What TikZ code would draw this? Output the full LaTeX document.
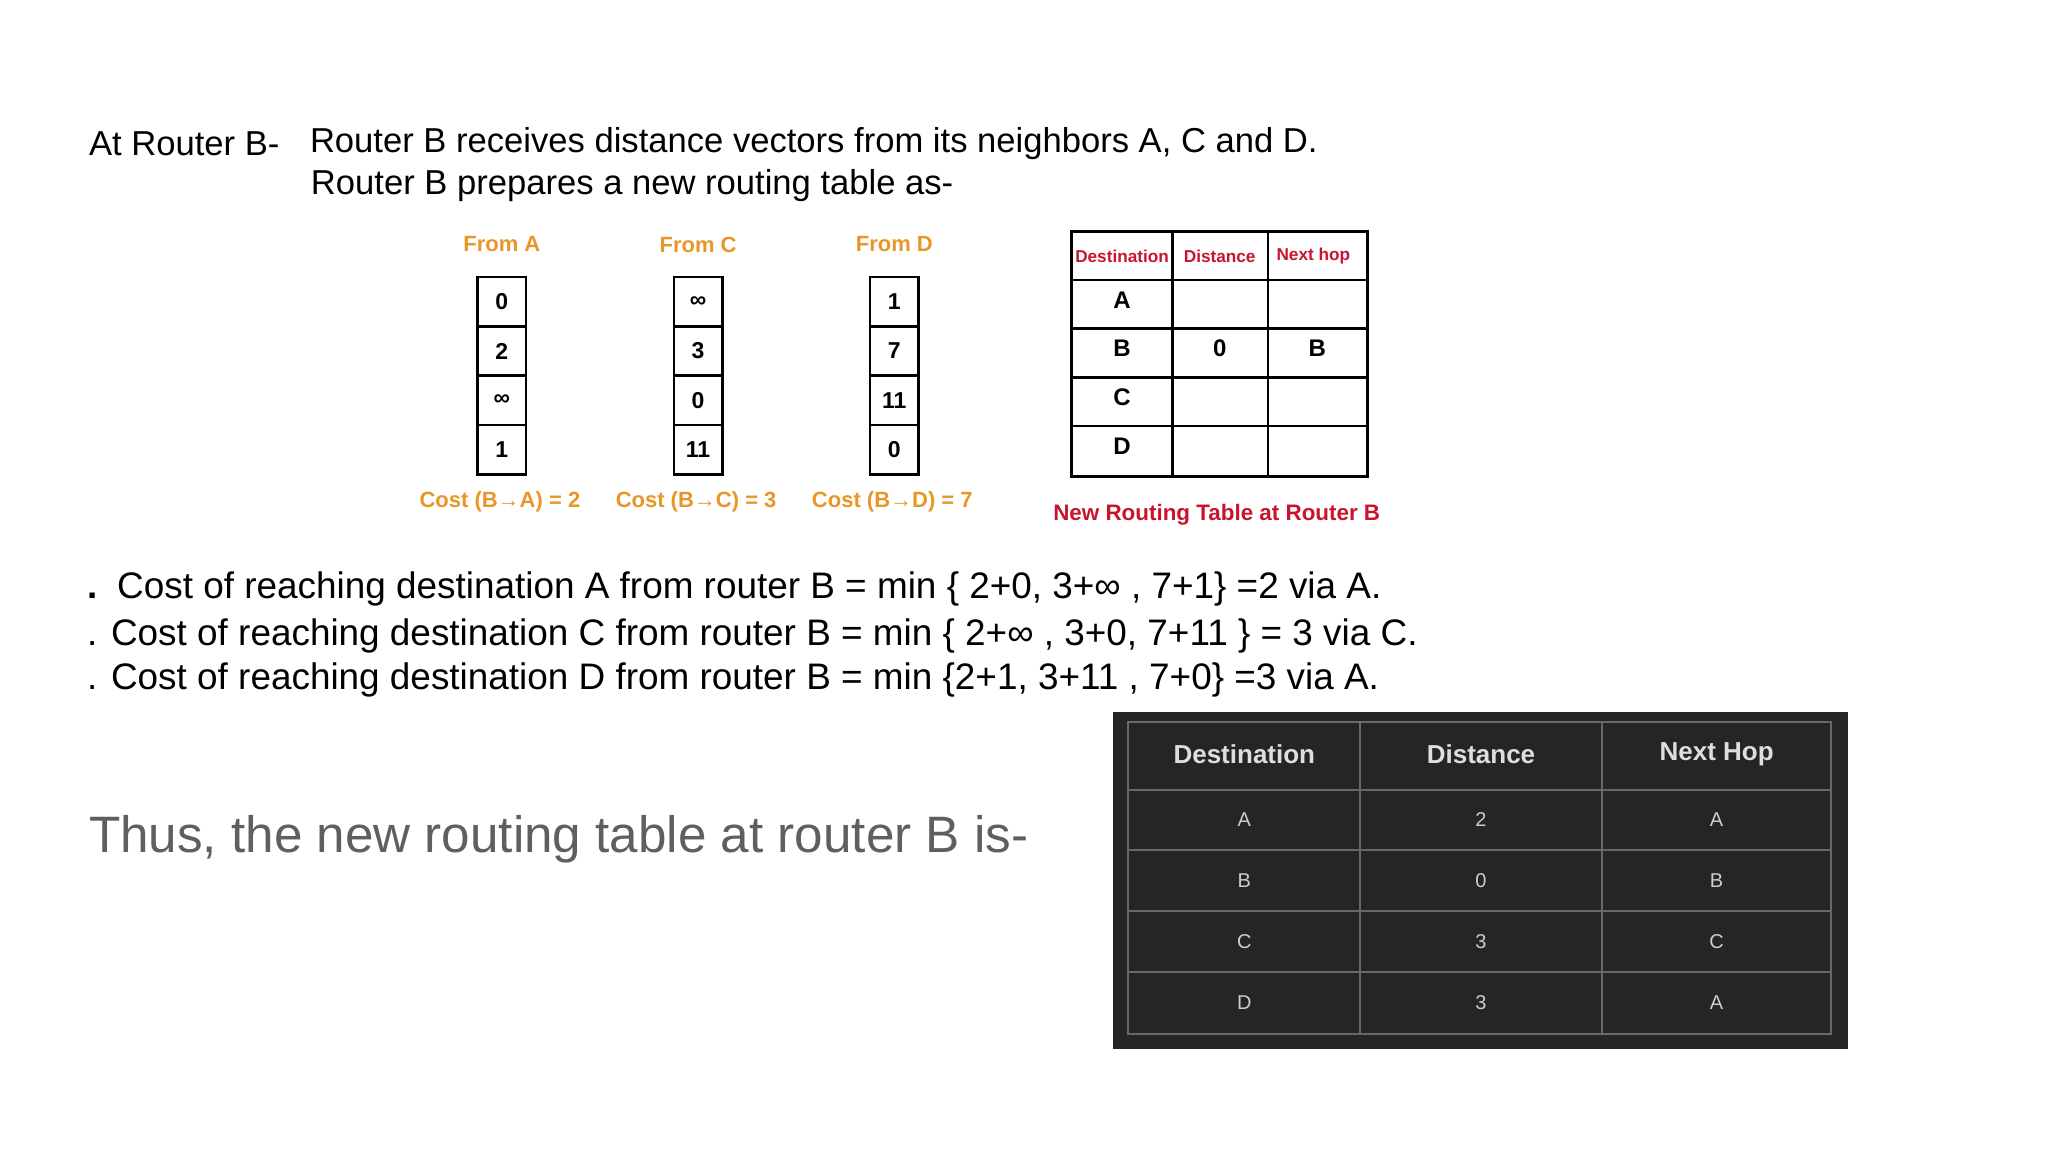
\documentclass[tikz,border=0pt]{standalone}
\usepackage{fontspec}
\setmainfont{Liberation Sans}
\begin{document}
\begin{tikzpicture}[x=0.5pt,y=-0.5pt,
  body/.style={anchor=west,inner sep=0pt,font=\fontsize{17.3}{20}\selectfont},
  line/.style={anchor=west,inner sep=0pt,font=\fontsize{18.45}{22}\selectfont},
  orng/.style={text=orng,font=\fontsize{11}{13}\selectfont\bfseries,inner sep=0pt},
  cell/.style={draw,line width=1.3pt,minimum width=24.2pt,minimum height=24.7pt,inner sep=0pt,font=\fontsize{11.5}{13}\selectfont\bfseries},
  rt/.style={inner sep=0pt,font=\fontsize{12}{14}\selectfont\bfseries},
  rh/.style={text=rd,inner sep=0pt,font=\fontsize{8.6}{10}\selectfont\bfseries},
  dk/.style={inner sep=0pt,text=lt,font=\fontsize{10}{12}\selectfont},
  dkh/.style={inner sep=0pt,text=lth,font=\fontsize{13}{15}\selectfont\bfseries}]
\definecolor{orng}{RGB}{232,150,40}
\definecolor{rd}{RGB}{200,20,45}
\definecolor{gr}{RGB}{95,95,95}
\definecolor{dkbg}{RGB}{36,37,36}
\definecolor{dkln}{RGB}{105,105,105}
\definecolor{lt}{RGB}{205,205,205}
\definecolor{lth}{RGB}{222,222,218}
\useasboundingbox (0,0) rectangle (2048,1152);
\begin{scope}[x=0.493pt,y=-0.493pt]
% header text
\node[body] (t1) at (90,146) {At Router B-};
\node[body] (t2) at (314,146) {Router B receives distance vectors from its neighbors A, C and D.};
\node[body] (t3) at (315,188) {Router B prepares a new routing table as-};
% vectors
\foreach \n/\x/\lab/\cost/\a/\b/\c/\d in {A/509/From A/Cost (B→A) = 2/0/2/∞/1, C/708/From C/Cost (B→C) = 3/∞/3/0/11, D/907/From D/Cost (B→D) = 7/1/7/11/0}{
  \node[orng] (h\n) at (\x,248) {\lab};
  \node[orng] (c\n) at (\x-2,509) {\cost};
  \node[cell] (v\n1) at (\x,306) {\a};
  \node[cell] (v\n2) at (\x,356) {\b};
  \node[cell] (v\n3) at (\x,406) {\c};
  \node[cell] (v\n4) at (\x,456) {\d};
}
% new routing table
\draw[line width=1.3pt] (1087,235) rectangle (1387,483);
\foreach \y in {284,333,383,432} \draw[line width=1.3pt] (1087,\y) -- (1387,\y);
\foreach \x in {1189,1286} \draw[line width=1.3pt] (\x,235) -- (\x,483);
\node[rh] (rh1) at (1138,260) {Destination};
\node[rh] (rh2) at (1237,260) {Distance};
\node[rh] (rh3) at (1332,260) {Next hop};
\node[rt] (rA) at (1138,304) {A};
\node[rt] (rB) at (1138,353) {B};
\node[rt] (rC) at (1138,403) {C};
\node[rt] (rD) at (1138,453) {D};
\node[rt] (rB2) at (1237,353) {0};
\node[rt] (rB3) at (1336,353) {B};
\node[text=rd,inner sep=0pt,font=\fontsize{11.2}{13}\selectfont\bfseries] (cap) at (1234,522) {New Routing Table at Router B};
% computations
\node[line] (l1) at (88,597) {{\bfseries.}\, Cost of reaching destination A from router B = min \{ 2+0, 3+∞ , 7+1\} =2 via A.};
\node[line] (l2) at (88,645) {. Cost of reaching destination C from router B = min \{ 2+∞ , 3+0, 7+11 \} = 3 via C.};
\node[line] (l3) at (88,690) {. Cost of reaching destination D from router B = min \{2+1, 3+11 , 7+0\} =3 via A.};
\node[anchor=west,inner sep=0pt,text=gr,font=\fontsize{25.6}{30}\selectfont] (thus) at (90,851) {Thus, the new routing table at router B is-};
% dark table
\fill[dkbg] (1129,722) rectangle (1874,1064);
\draw[dkln,line width=1pt] (1144,732) rectangle (1857,1049);
\foreach \y in {801,862,924,986} \draw[dkln,line width=1pt] (1144,\y) -- (1857,\y);
\foreach \x in {1379,1625} \draw[dkln,line width=1pt] (\x,732) -- (\x,1049);
\node[dkh] (dh1) at (1262,765) {Destination};
\node[dkh] (dh2) at (1502,765) {Distance};
\node[dkh] (dh3) at (1741,765) {Next Hop};
\foreach \r/\y/\p/\q/\s in {1/831/A/2/A, 2/893/B/0/B, 3/955/C/3/C, 4/1017/D/3/A}{
  \node[dk] (d\r a) at (1262,\y) {\p};
  \node[dk] (d\r b) at (1502,\y) {\q};
  \node[dk] (d\r c) at (1741,\y) {\s};
}
\end{scope}
\end{tikzpicture}
\end{document}
